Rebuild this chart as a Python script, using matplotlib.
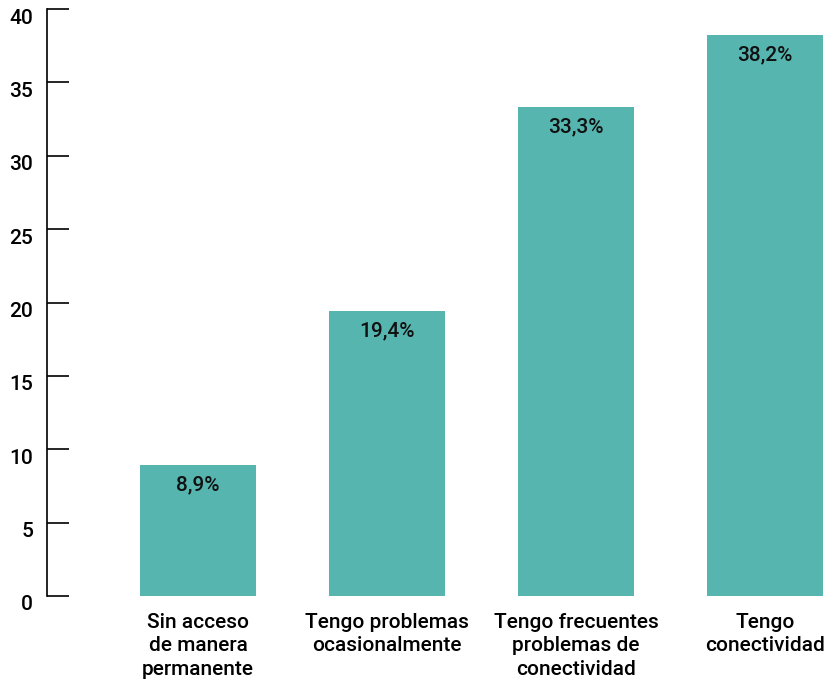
import matplotlib.pyplot as plt
import matplotlib.transforms as mtransforms

plt.rcParams['font.family'] = ['Roboto', 'DejaVu Sans']

categories = ['Sin acceso\nde manera\npermanente',
              'Tengo problemas\nocasionalmente',
              'Tengo frecuentes\nproblemas de\nconectividad',
              'Tengo\nconectividad']
values = [8.9, 19.4, 33.3, 38.2]
value_labels = ['8,9%', '19,4%', '33,3%', '38,2%']
yticks = [0, 5, 10, 15, 20, 25, 30, 35, 40]

fig = plt.figure(figsize=(8.27, 6.83), dpi=100)
ax = fig.add_axes([47 / 827, 87 / 683, 780 / 827, 587 / 683])

x = list(range(len(categories)))
bars = ax.bar(x, values, width=0.614, color='#57b5b0')

for bar, lab in zip(bars, value_labels):
    ax.annotate(lab, xy=(bar.get_x() + bar.get_width() / 2, bar.get_height()),
                xytext=(0, -7.5), textcoords='offset points',
                ha='center', va='top', fontsize=15, fontweight='medium', color='#111111')

ax.set_xlim(-0.799, 3.328)
ax.set_ylim(0, 40)
ax.set_yticks(yticks)
ax.set_yticklabels([str(t) for t in yticks])
ax.set_xticks(x)
ax.set_xticklabels(categories, fontsize=15, fontweight='medium', linespacing=1.3)

for s in ['top', 'right', 'bottom']:
    ax.spines[s].set_visible(False)
ax.spines['left'].set_linewidth(1.2)
ax.tick_params(axis='y', direction='in', length=16, width=1.2, pad=10, labelsize=15)
ax.tick_params(axis='x', length=0, pad=12)
for t in ax.get_yticklabels():
    t.set_fontweight('medium')
    t.set_transform(t.get_transform() + mtransforms.ScaledTranslation(0, -7 / 100, fig.dpi_scale_trans))

plt.savefig('out.png', dpi=100, facecolor='white')
